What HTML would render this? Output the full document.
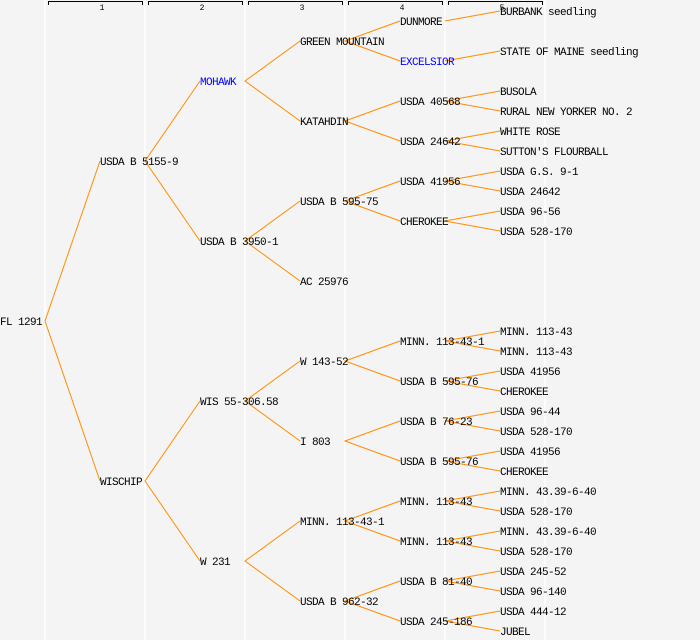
<!DOCTYPE html>
<html><head><meta charset="utf-8"><style>
html,body{margin:0;padding:0;background:#f4f4f4;}
svg{display:block;}
text{font-family:"Liberation Mono",monospace;font-size:11px;letter-spacing:-0.6px;fill:#000;}
.h{font-size:8px;letter-spacing:0;}
</style></head><body>
<svg width="700" height="640" xmlns="http://www.w3.org/2000/svg">
<rect width="700" height="640" fill="#f4f4f4"/>
<g stroke="#fff" stroke-width="1.5">
<line x1="45" y1="0" x2="45" y2="640"/><line x1="145" y1="0" x2="145" y2="640"/><line x1="245" y1="0" x2="245" y2="640"/><line x1="345" y1="0" x2="345" y2="640"/><line x1="445" y1="0" x2="445" y2="640"/><line x1="545" y1="0" x2="545" y2="640"/>
</g>
<g stroke="#000" stroke-width="1" fill="none">
<path d="M48.5 5V1.5H142.5V5"/><path d="M148.5 5V1.5H242.5V5"/><path d="M248.5 5V1.5H342.5V5"/><path d="M348.5 5V1.5H442.5V5"/><path d="M448.5 5V1.5H542.5V5"/>
</g>
<g text-anchor="middle">
<text class="h" x="102" y="10">1</text><text class="h" x="202" y="10">2</text><text class="h" x="302" y="10">3</text><text class="h" x="402" y="10">4</text><text class="h" x="502" y="10">5</text>
</g>
<g stroke="#ff8c00" stroke-width="1" fill="none">
<path d="M100 161L45 321L100 481"/>
<path d="M200 81L145 161L200 241"/>
<path d="M200 401L145 481L200 561"/>
<path d="M300 41L245 81L300 121"/>
<path d="M300 201L245 241L300 281"/>
<path d="M300 361L245 401L300 441"/>
<path d="M300 521L245 561L300 601"/>
<path d="M400 21L345 41L400 61"/>
<path d="M400 101L345 121L400 141"/>
<path d="M400 181L345 201L400 221"/>
<path d="M400 341L345 361L400 381"/>
<path d="M400 421L345 441L400 461"/>
<path d="M400 501L345 521L400 541"/>
<path d="M400 581L345 601L400 621"/>
<path d="M500 11L445 21"/>
<path d="M500 51L445 61"/>
<path d="M500 91L445 101L500 111"/>
<path d="M500 131L445 141L500 151"/>
<path d="M500 171L445 181L500 191"/>
<path d="M500 211L445 221L500 231"/>
<path d="M500 331L445 341L500 351"/>
<path d="M500 371L445 381L500 391"/>
<path d="M500 411L445 421L500 431"/>
<path d="M500 451L445 461L500 471"/>
<path d="M500 491L445 501L500 511"/>
<path d="M500 531L445 541L500 551"/>
<path d="M500 571L445 581L500 591"/>
<path d="M500 611L445 621L500 631"/>
</g>
<g dominant-baseline="central" transform="translate(0,1)">
<text x="0" y="322">FL 1291</text>
<text x="100" y="162">USDA B 5155-9</text>
<text x="100" y="482">WISCHIP</text>
<text x="200" y="82" style="fill:#0000ff">MOHAWK</text>
<text x="200" y="242">USDA B 3950-1</text>
<text x="200" y="402">WIS 55-306.58</text>
<text x="200" y="562">W 231</text>
<text x="300" y="42">GREEN MOUNTAIN</text>
<text x="300" y="122">KATAHDIN</text>
<text x="300" y="202">USDA B 595-75</text>
<text x="300" y="282">AC 25976</text>
<text x="300" y="362">W 143-52</text>
<text x="300" y="442">I 803</text>
<text x="300" y="522">MINN. 113-43-1</text>
<text x="300" y="602">USDA B 962-32</text>
<text x="400" y="22">DUNMORE</text>
<text x="400" y="62" style="fill:#0000ff">EXCELSIOR</text>
<text x="400" y="102">USDA 40568</text>
<text x="400" y="142">USDA 24642</text>
<text x="400" y="182">USDA 41956</text>
<text x="400" y="222">CHEROKEE</text>
<text x="400" y="342">MINN. 113-43-1</text>
<text x="400" y="382">USDA B 595-76</text>
<text x="400" y="422">USDA B 76-23</text>
<text x="400" y="462">USDA B 595-76</text>
<text x="400" y="502">MINN. 113-43</text>
<text x="400" y="542">MINN. 113-43</text>
<text x="400" y="582">USDA B 81-40</text>
<text x="400" y="622">USDA 245-186</text>
<text x="500" y="12">BURBANK seedling</text>
<text x="500" y="52">STATE OF MAINE seedling</text>
<text x="500" y="92">BUSOLA</text>
<text x="500" y="112">RURAL NEW YORKER NO. 2</text>
<text x="500" y="132">WHITE ROSE</text>
<text x="500" y="152">SUTTON'S FLOURBALL</text>
<text x="500" y="172">USDA G.S. 9-1</text>
<text x="500" y="192">USDA 24642</text>
<text x="500" y="212">USDA 96-56</text>
<text x="500" y="232">USDA 528-170</text>
<text x="500" y="332">MINN. 113-43</text>
<text x="500" y="352">MINN. 113-43</text>
<text x="500" y="372">USDA 41956</text>
<text x="500" y="392">CHEROKEE</text>
<text x="500" y="412">USDA 96-44</text>
<text x="500" y="432">USDA 528-170</text>
<text x="500" y="452">USDA 41956</text>
<text x="500" y="472">CHEROKEE</text>
<text x="500" y="492">MINN. 43.39-6-40</text>
<text x="500" y="512">USDA 528-170</text>
<text x="500" y="532">MINN. 43.39-6-40</text>
<text x="500" y="552">USDA 528-170</text>
<text x="500" y="572">USDA 245-52</text>
<text x="500" y="592">USDA 96-140</text>
<text x="500" y="612">USDA 444-12</text>
<text x="500" y="632">JUBEL</text>
</g>
</svg>
</body></html>
